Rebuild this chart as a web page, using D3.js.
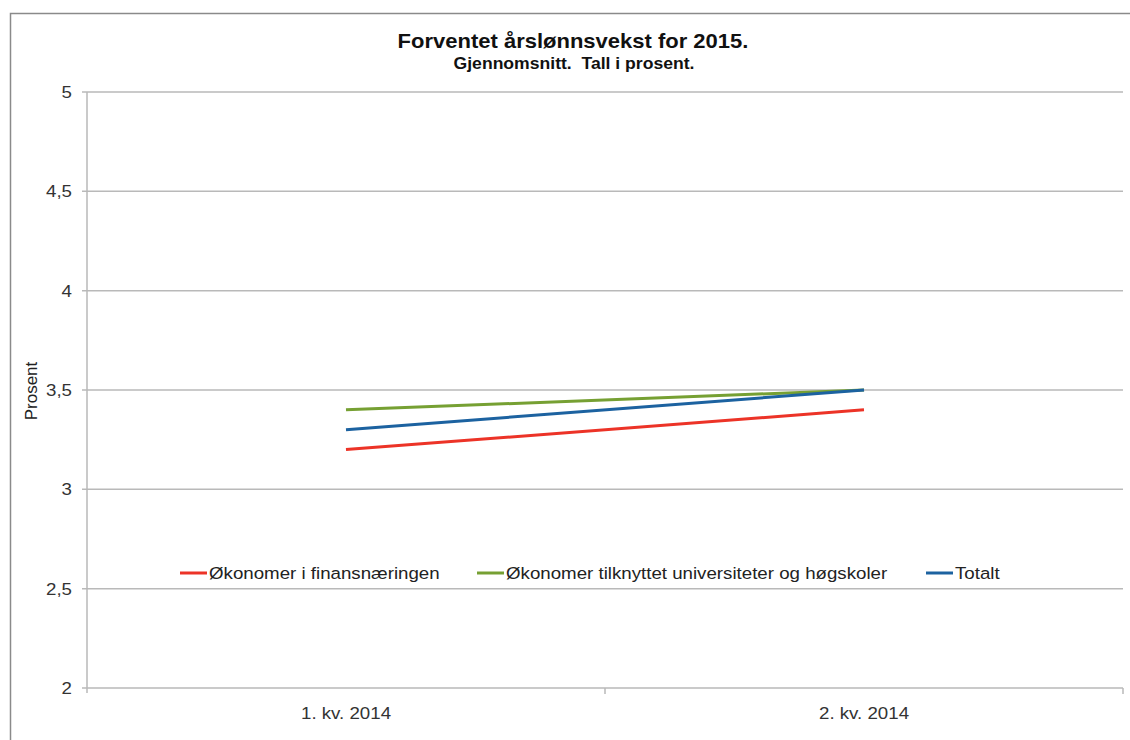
<!DOCTYPE html>
<html>
<head>
<meta charset="utf-8">
<script src="https://cdn.jsdelivr.net/npm/d3@7"></script>
<style>
  body { margin: 0; background: #fff; }
  text { font-family: "Liberation Sans", Arial, sans-serif; }
</style>
</head>
<body>
<svg id="chart" width="1130" height="740"></svg>
<script>
// data
const categories = ['1. kv. 2014', '2. kv. 2014'];
const finans = [3.2, 3.4];
const universitet = [3.4, 3.5];
const totalt = [3.3, 3.5];
const yTicks = [2, 2.5, 3, 3.5, 4, 4.5, 5];

const series = [
  {name: 'Økonomer i finansnæringen', values: finans, color: '#ec3327'},
  {name: 'Økonomer tilknyttet universiteter og høgskoler', values: universitet, color: '#76a033'},
  {name: 'Totalt', values: totalt, color: '#1c62a0'}
];

const svg = d3.select('#chart');
const m = {left: 87, right: 1123, top: 92, bottom: 688};
const sx = 1.1; // text in the source picture is a bit wider than the font

// outer frame (left + top only, as in the picture)
svg.append('path')
  .attr('d', `M10.5,740 V13.5 H1130`)
  .attr('fill', 'none')
  .attr('stroke', '#8a8a8a')
  .attr('stroke-width', 1.5);

const x = d3.scaleBand().domain(categories).range([m.left, m.right]);
const y = d3.scaleLinear().domain([2, 5]).range([m.bottom, m.top]);

// grid
svg.append('g').selectAll('line')
  .data(yTicks)
  .join('line')
    .attr('x1', m.left - 5).attr('x2', m.right)
    .attr('y1', d => y(d)).attr('y2', d => y(d))
    .attr('stroke', '#b9b9b9').attr('stroke-width', 1.5);

// y axis line
svg.append('line')
  .attr('x1', m.left).attr('x2', m.left)
  .attr('y1', m.top).attr('y2', m.bottom + 5)
  .attr('stroke', '#b9b9b9').attr('stroke-width', 1.5);

// x ticks at category boundaries
const bounds = categories.map(c => x(c)).concat([m.right]).slice(1);
svg.append('g').selectAll('line')
  .data(bounds)
  .join('line')
    .attr('x1', d => d).attr('x2', d => d)
    .attr('y1', m.bottom).attr('y2', m.bottom + 6)
    .attr('stroke', '#b9b9b9').attr('stroke-width', 1.5);

// y tick labels
svg.append('g').selectAll('text')
  .data(yTicks)
  .join('text')
    .attr('transform', d => `translate(${m.left - 15},${y(d) + 6}) scale(${sx},1)`)
    .attr('text-anchor', 'end')
    .attr('font-size', 17)
    .attr('fill', '#333')
    .text(d => d3.format('')(d).replace('.', ','));

// x tick labels
svg.append('g').selectAll('text')
  .data(categories)
  .join('text')
    .attr('transform', d => `translate(${x(d) + x.bandwidth() / 2},${m.bottom + 31}) scale(${sx},1)`)
    .attr('text-anchor', 'middle')
    .attr('font-size', 17)
    .attr('fill', '#333')
    .text(d => d);

// lines
const line = d3.line()
  .x((d, i) => x(categories[i]) + x.bandwidth() / 2)
  .y(d => y(d));

svg.append('g').selectAll('path')
  .data(series)
  .join('path')
    .attr('d', d => line(d.values))
    .attr('fill', 'none')
    .attr('stroke', d => d.color)
    .attr('stroke-width', 3);

// titles
svg.append('text')
  .attr('transform', `translate(573,48) scale(${sx},1)`)
  .attr('text-anchor', 'middle')
  .attr('font-size', 20).attr('font-weight', 'bold')
  .attr('fill', '#111')
  .text('Forventet årslønnsvekst for 2015.');
svg.append('text')
  .attr('transform', `translate(574,69) scale(${sx},1)`)
  .attr('text-anchor', 'middle')
  .attr('font-size', 16).attr('font-weight', 'bold')
  .attr('fill', '#111')
  .text('Gjennomsnitt.  Tall i prosent.')
  .style('white-space', 'pre');

// y axis title
svg.append('text')
  .attr('transform', 'translate(37,391) rotate(-90)')
  .attr('text-anchor', 'middle')
  .attr('font-size', 17)
  .attr('fill', '#222')
  .text('Prosent');

// legend
const legendX = [180, 477, 926];
const leg = svg.append('g').selectAll('g')
  .data(series)
  .join('g')
    .attr('transform', (d, i) => `translate(${legendX[i]},573)`);
leg.append('line')
  .attr('x1', 0).attr('x2', 27)
  .attr('stroke', d => d.color).attr('stroke-width', 3);
leg.append('text')
  .attr('transform', `translate(29,6) scale(${sx},1)`)
  .attr('font-size', 17)
  .attr('fill', '#222')
  .text(d => d.name);
</script>
</body>
</html>
